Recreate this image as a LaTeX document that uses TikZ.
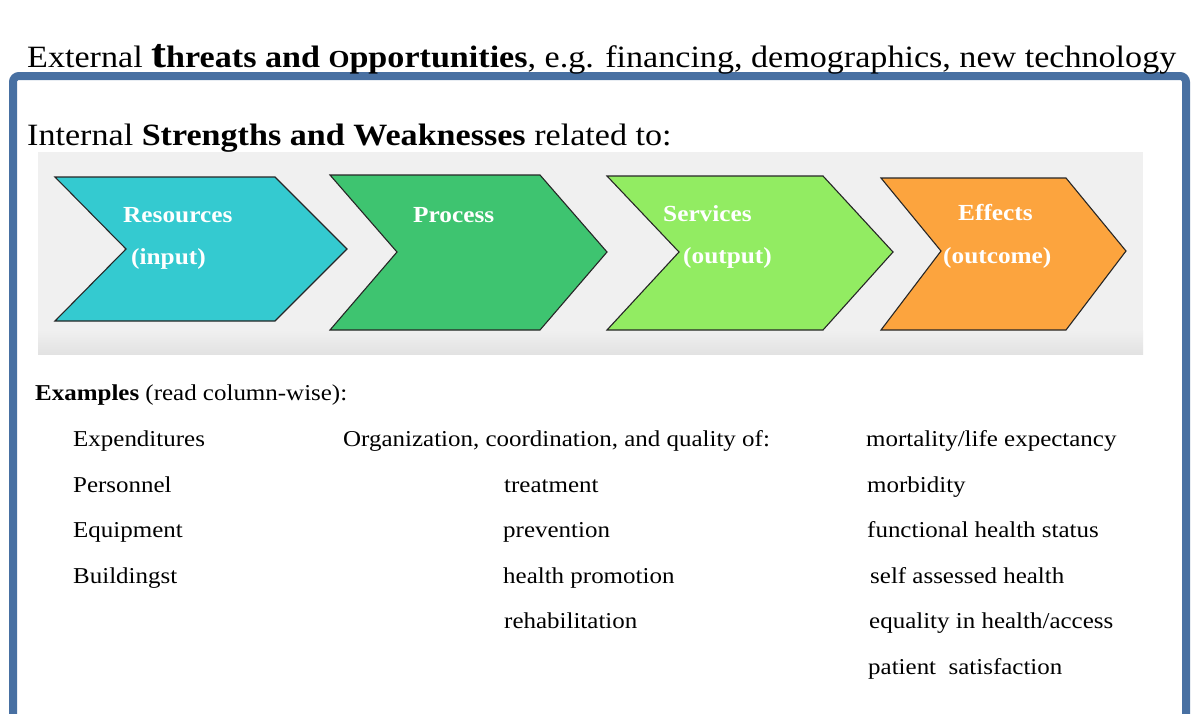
\documentclass[tikz,border=0pt]{standalone}
\usepackage{fontspec}
\setmainfont[FakeStretch=1.1]{Liberation Serif}
\definecolor{frameblue}{RGB}{72,112,162}
\definecolor{bandgray}{RGB}{240,240,240}
\definecolor{bandshadow}{RGB}{226,226,226}
\definecolor{cyanarrow}{RGB}{52,202,208}
\definecolor{greenarrow}{RGB}{62,196,112}
\definecolor{limearrow}{RGB}{146,236,98}
\definecolor{orangearrow}{RGB}{252,164,62}
\begin{document}
\begin{tikzpicture}[x=1pt,y=-1pt,
  heading/.style={anchor=base west, inner sep=0pt, font=\fontsize{31}{31}\selectfont},
  chevron/.style={draw=black!85, line width=1.1pt, line join=miter},
  chevlabel/.style={anchor=base west, inner sep=0pt, text=white, font=\fontsize{23}{23}\selectfont\bfseries},
  example/.style={anchor=base west, inner sep=0pt, font=\fontsize{22.7}{22.7}\selectfont}]
\useasboundingbox (0,0) rectangle (1192,713);
\fill[white] (0,0) rectangle (1192,713);

% blue frame around the internal part (open at the bottom edge)
\begin{scope}
  \clip (0,0) rectangle (1192,713);
  \draw[draw=frameblue, line width=8pt, rounded corners=6pt, fill=white]
    (13,76) rectangle (1186,760);
\end{scope}

% headings
\node[heading] (ext) at (27,67) {External \textbf{{\fontsize{41}{41}\selectfont t}hreats and {\fontsize{24.5}{24.5}\selectfont O}pportunities}, e.g. financing, demographics, new technology};
\node[heading] (int) at (27,145) {Internal \textbf{Strengths and Weaknesses} related to:};

% grey band behind the chevrons, darkening slightly towards its lower edge
\fill[bandgray] (38,152) rectangle (1143,354);
\shade[top color=bandgray, bottom color=bandshadow] (38,330) rectangle (1143,354);

% the four chevrons
\filldraw[chevron, fill=cyanarrow]   (55,177) -- (275,177) -- (347,249) -- (275,321) -- (55,321) -- (126,249) -- cycle;
\filldraw[chevron, fill=greenarrow]  (330,175) -- (540,175) -- (607,252) -- (540,330) -- (330,330) -- (397,252) -- cycle;
\filldraw[chevron, fill=limearrow]   (607,176) -- (823,176) -- (893,252) -- (823,330) -- (607,330) -- (679,252) -- cycle;
\filldraw[chevron, fill=orangearrow] (881,178) -- (1066,178) -- (1126,251) -- (1066,330) -- (881,330) -- (941,251) -- cycle;

% chevron labels
\node[chevlabel] (res)  at (123,222) {Resources};
\node[chevlabel] (inp)  at (131,264) {(input)};
\node[chevlabel] (proc) at (413,222) {Process};
\node[chevlabel] (serv) at (663,221) {Services};
\node[chevlabel] (outp) at (683,263) {(output)};
\node[chevlabel] (eff)  at (958,220) {Effects};
\node[chevlabel] (outc) at (943,263) {(outcome)};

% examples, read column-wise
\node[example] (exh) at (35,400) {\textbf{Examples} (read column-wise):};

\node[example] (a1) at (73,446.5) {Expenditures};
\node[example] (a2) at (73,492)   {Personnel};
\node[example] (a3) at (73,537.5) {Equipment};
\node[example] (a4) at (73,583)   {Buildingst};

\node[example] (b0) at (343,446.5) {Organization, coordination, and quality of:};
\node[example] (b1) at (504,492)   {treatment};
\node[example] (b2) at (503,537.5) {prevention};
\node[example] (b3) at (503,583)   {health promotion};
\node[example] (b4) at (504,628.5) {rehabilitation};

\node[example] (c1) at (866,446.5) {mortality/life expectancy};
\node[example] (c2) at (867,492)   {morbidity};
\node[example] (c3) at (867,537.5) {functional health status};
\node[example] (c4) at (870,583)   {self assessed health};
\node[example] (c5) at (869,628.5) {equality in health/access};
\node[example] (c6) at (868,674)   {patient\ \ satisfaction};
\end{tikzpicture}
\end{document}
